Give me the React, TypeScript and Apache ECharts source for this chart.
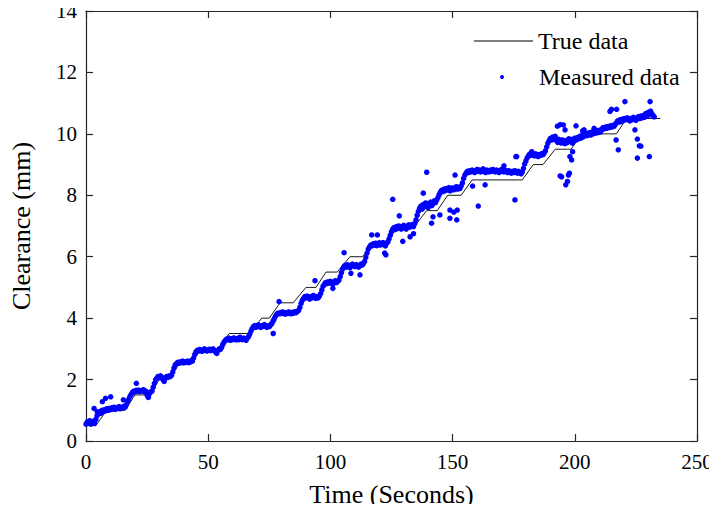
import React, { useEffect, useRef } from "react";
import * as echarts from "echarts";

// True data: staircase (time s, clearance mm)
const trueTime = [0, 4, 8.5, 16, 20, 26, 30, 34, 38, 43, 47, 54, 58.6, 67, 71.9, 75, 79.4, 84.8, 90, 94.1, 98.2, 102.8, 108, 113, 118.9, 123, 128, 134.5, 139.4, 143.7, 148, 153.5, 158, 178.5, 183, 187, 192, 198.5, 203, 217, 221.2, 235];
const trueValue = [0.5, 0.5, 1.0, 1.0, 1.5, 1.5, 2.0, 2.0, 2.5, 2.5, 3.0, 3.0, 3.5, 3.5, 4.0, 4.0, 4.5, 4.5, 5.0, 5.0, 5.5, 5.5, 6.0, 6.0, 6.5, 6.5, 7.0, 7.0, 7.5, 7.5, 8.0, 8.0, 8.5, 8.5, 9.0, 9.0, 9.5, 9.5, 10.0, 10.0, 10.5, 10.5];

// Measured data, one sample every 0.5 s starting at t = 0
const sampleStep = 0.5;
const measuredValue = [
  0.55, 0.62, 0.58, 0.66, 0.55, 0.60, 0.64, 0.57, 0.70, 0.82,
  0.88, 0.95, 0.90, 1.00, 0.96, 1.02, 0.98, 1.05, 1.00, 1.06,
  1.02, 1.08, 1.04, 1.10, 1.03, 1.08, 1.06, 1.12, 1.05, 1.10,
  1.08, 1.13, 1.10, 1.18, 1.28, 1.36, 1.45, 1.52, 1.58, 1.62,
  1.60, 1.65, 1.62, 1.66, 1.61, 1.64, 1.63, 1.67, 1.60, 1.62,
  1.50, 1.46, 1.55, 1.60, 1.62, 1.75, 1.88, 2.00, 2.05, 2.10,
  2.06, 2.12, 2.08, 2.00, 1.94, 2.05, 2.10, 2.08, 2.12, 2.10,
  2.14, 2.25, 2.38, 2.48, 2.52, 2.56, 2.53, 2.58, 2.55, 2.60,
  2.54, 2.58, 2.56, 2.60, 2.55, 2.57, 2.62, 2.60, 2.70, 2.82,
  2.90, 2.95, 2.93, 2.98, 2.95, 2.92, 2.97, 3.00, 2.95, 2.93,
  2.96, 2.99, 2.94, 2.97, 3.00, 2.95, 2.90, 2.85, 2.95, 3.00,
  2.98, 3.05, 3.15, 3.22, 3.28, 3.32, 3.30, 3.35, 3.28, 3.33,
  3.30, 3.36, 3.32, 3.29, 3.34, 3.30, 3.38, 3.33, 3.30, 3.35,
  3.32, 3.28, 3.36, 3.40, 3.48, 3.58, 3.66, 3.72, 3.76, 3.70,
  3.74, 3.78, 3.72, 3.70, 3.76, 3.73, 3.79, 3.74, 3.70, 3.75,
  3.72, 3.78, 3.82, 3.90, 3.98, 4.06, 4.12, 4.16, 4.14, 4.18,
  4.15, 4.20, 4.16, 4.13, 4.18, 4.15, 4.20, 4.17, 4.14, 4.19,
  4.16, 4.21, 4.18, 4.22, 4.25, 4.35, 4.48, 4.58, 4.64, 4.70,
  4.66, 4.72, 4.68, 4.62, 4.70, 4.66, 4.74, 4.68, 4.64, 4.70,
  4.66, 4.72, 4.80, 4.92, 5.04, 5.10, 5.16, 5.12, 5.18, 5.14,
  5.20, 5.16, 5.10, 5.18, 5.22, 5.16, 5.20, 5.24, 5.35, 5.48,
  5.60, 5.68, 5.72, 5.66, 5.74, 5.70, 5.64, 5.72, 5.76, 5.70,
  5.68, 5.74, 5.72, 5.66, 5.70, 5.76, 5.73, 5.78, 5.85, 5.98,
  6.12, 6.25, 6.32, 6.38, 6.35, 6.42, 6.38, 6.44, 6.36, 6.40,
  6.45, 6.38, 6.42, 6.46, 6.40, 6.35, 6.44, 6.48, 6.58, 6.70,
  6.82, 6.90, 6.95, 6.88, 6.98, 6.92, 7.00, 6.94, 6.90, 6.98,
  7.02, 6.95, 6.90, 6.98, 7.04, 6.96, 7.00, 7.05, 6.98, 7.08,
  7.20, 7.35, 7.48, 7.58, 7.65, 7.55, 7.70, 7.62, 7.75, 7.68,
  7.60, 7.72, 7.78, 7.66, 7.74, 7.82, 7.76, 7.85, 7.92, 8.02,
  8.10, 8.16, 8.12, 8.20, 8.15, 8.22, 8.18, 8.25, 8.14, 8.20,
  8.24, 8.18, 8.22, 8.28, 8.20, 8.26, 8.22, 8.30, 8.40, 8.55,
  8.66, 8.72, 8.78, 8.74, 8.80, 8.76, 8.82, 8.78, 8.74, 8.80,
  8.84, 8.78, 8.82, 8.76, 8.80, 8.86, 8.78, 8.74, 8.82, 8.78,
  8.76, 8.82, 8.78, 8.84, 8.80, 8.76, 8.82, 8.78, 8.74, 8.80,
  8.84, 8.78, 8.76, 8.82, 8.78, 8.74, 8.80, 8.76, 8.72, 8.78,
  8.74, 8.80, 8.76, 8.72, 8.78, 8.74, 8.70, 8.76, 8.88, 9.02,
  9.12, 9.22, 9.28, 9.34, 9.30, 9.36, 9.32, 9.28, 9.35, 9.30,
  9.26, 9.33, 9.30, 9.36, 9.32, 9.38, 9.45, 9.58, 9.70, 9.78,
  9.85, 9.80, 9.90, 9.84, 9.92, 9.78, 9.72, 9.82, 9.76, 9.70,
  9.80, 9.74, 9.68, 9.78, 9.72, 9.84, 9.76, 9.82, 9.70, 9.78,
  9.86, 9.80, 9.88, 9.84, 9.92, 9.86, 9.96, 9.90, 9.98, 10.02,
  9.94, 10.00, 10.04, 9.96, 10.06, 10.00, 10.08, 10.02, 10.10, 10.04,
  10.12, 10.06, 10.14, 10.20, 10.16, 10.22, 10.18, 10.24, 10.20, 10.26,
  10.22, 10.28, 10.24, 10.30, 10.36, 10.42, 10.38, 10.46, 10.40, 10.48,
  10.44, 10.50, 10.46, 10.52, 10.48, 10.42, 10.50, 10.46, 10.54, 10.48,
  10.44, 10.52, 10.56, 10.50, 10.58, 10.52, 10.60, 10.54, 10.66, 10.58,
  10.70, 10.62, 10.74, 10.66, 10.60, 10.55,
];

// Scattered measured points away from the main band
const outlierTime = [3.3, 4.6, 6.7, 8.0, 10.1, 15.3, 20.6, 25.5, 76.6, 79.0, 93.7, 101, 105.6, 108.4, 112.1, 116.9, 119.2, 122.2, 122.7, 125.5, 128.2, 129.6, 132.6, 134, 138, 139.4, 141.4, 142, 144.8, 148.9, 148.9, 150.5, 151.7, 151.9, 151, 158.2, 160.5, 163.3, 171, 175.9, 175.5, 176.2, 182.4, 192.9, 194, 195.3, 196, 200.5, 203.2, 194, 194.6, 196.3, 197, 197.4, 197.8, 198, 198.7, 199.1, 203.8, 207.9, 214.4, 215, 217.1, 220.5, 230.8, 216.9, 217.8, 224.6, 225.6, 225.6, 226.4, 227, 230.5];
const outlierValue = [1.06, 0.95, 1.28, 1.39, 1.44, 1.34, 1.88, 1.42, 3.50, 4.54, 5.22, 4.97, 6.13, 5.46, 5.41, 6.71, 6.71, 6.12, 6.06, 7.87, 7.33, 6.50, 6.65, 6.75, 8.07, 8.75, 7.09, 7.30, 7.36, 7.25, 7.52, 7.45, 7.20, 7.52, 8.66, 8.30, 7.65, 8.34, 8.96, 9.26, 7.85, 9.26, 9.42, 10.25, 10.30, 10.29, 10.13, 10.26, 10.10, 8.63, 8.60, 8.34, 8.45, 8.66, 8.72, 9.26, 9.15, 9.42, 10.13, 10.18, 10.73, 10.80, 10.80, 11.05, 11.05, 9.80, 9.48, 10.13, 9.83, 9.21, 9.61, 9.60, 9.26];

const xTicks = { min: 0, max: 250, interval: 50 };
const yTicks = { min: 0, max: 14, interval: 2 };

const FONT = "'Liberation Serif', 'Times New Roman', serif";

export default function App() {
  const ref = useRef<HTMLDivElement>(null);
  useEffect(() => {
    if (!ref.current) return;
    const chart = echarts.init(ref.current, null, { renderer: "svg" });
    const trueData = trueTime.map((t, i) => [t, trueValue[i]]);
    const measured = measuredValue.map((v, i) => [i * sampleStep, v]);
    outlierTime.forEach((t, i) => measured.push([t, outlierValue[i]]));

    const axisLine = { show: true, onZero: false, lineStyle: { color: "#262626", width: 1.2 } };
    const tick = { show: true, inside: true, length: 7, lineStyle: { color: "#262626", width: 1.2 } };
    const label = { color: "#000", fontFamily: FONT, fontSize: 21 };
    const nameStyle = { color: "#000", fontFamily: FONT, fontSize: 26 };

    chart.setOption({
      animation: false,
      backgroundColor: "#fff",
      grid: { left: 86, right: 20, top: 11, bottom: 71, outerBoundsMode: "none", containLabel: false },
      legend: [
        {
          data: [{ name: "True data", icon: "rect", itemStyle: { color: "#000" } }],
          left: 469,
          top: 24,
          itemWidth: 59,
          itemHeight: 1,
          textStyle: { color: "#000", fontFamily: FONT, fontSize: 24 },
        },
        {
          data: [{ name: "Measured data", icon: "circle", itemStyle: { color: "#0000ff" } }],
          left: 495,
          top: 60,
          itemWidth: 4,
          itemHeight: 4,
          textStyle: { color: "#000", fontFamily: FONT, fontSize: 24, padding: [0, 0, 0, 30] },
        },
      ],
      xAxis: [
        {
          type: "value",
          ...xTicks,
          position: "bottom",
          name: "Time (Seconds)",
          nameLocation: "middle",
          nameGap: 40,
          nameTextStyle: nameStyle,
          axisLine,
          axisTick: tick,
          axisLabel: { ...label, margin: 10 },
          splitLine: { show: false },
        },
        {
          type: "value",
          ...xTicks,
          position: "top",
          axisLine,
          axisTick: tick,
          axisLabel: { show: false },
          splitLine: { show: false },
        },
      ],
      yAxis: [
        {
          type: "value",
          ...yTicks,
          position: "left",
          name: "Clearance (mm)",
          nameLocation: "middle",
          nameGap: 52,
          nameTextStyle: nameStyle,
          axisLine,
          axisTick: tick,
          axisLabel: { ...label, margin: 9 },
          splitLine: { show: false },
        },
        {
          type: "value",
          ...yTicks,
          position: "right",
          axisLine,
          axisTick: tick,
          axisLabel: { show: false },
          splitLine: { show: false },
        },
      ],
      series: [
        {
          name: "True data",
          type: "line",
          data: trueData,
          xAxisIndex: 0,
          yAxisIndex: 0,
          showSymbol: false,
          symbol: "none",
          lineStyle: { color: "#000", width: 0.9 },
          itemStyle: { color: "#000" },
          z: 2,
        },
        {
          name: "Measured data",
          type: "scatter",
          data: measured,
          xAxisIndex: 0,
          yAxisIndex: 0,
          symbol: "circle",
          symbolSize: 5.5,
          itemStyle: { color: "#0000ff", opacity: 1 },
          z: 3,
        },
      ],
    });
    return () => chart.dispose();
  }, []);
  return <div ref={ref} style={{ width: 717, height: 512, margin: -8 }} />;
}
